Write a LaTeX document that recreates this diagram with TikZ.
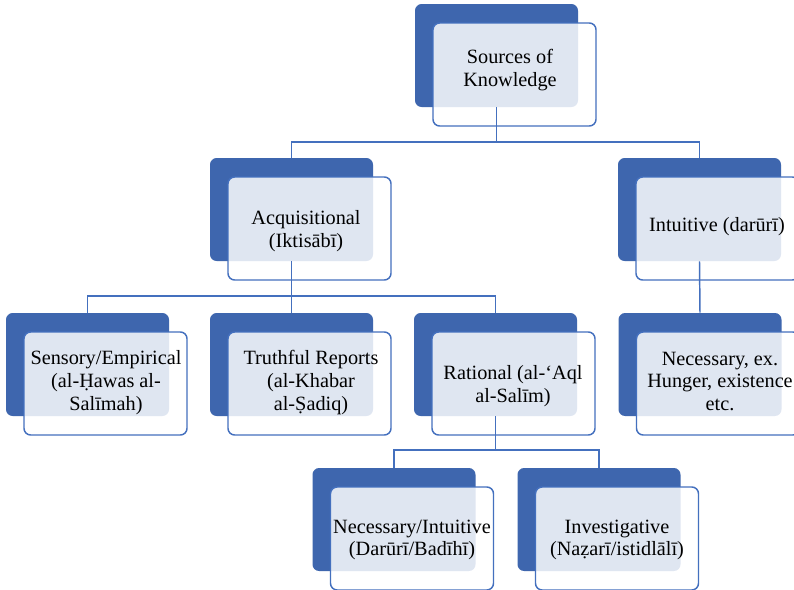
\documentclass[tikz,border=0pt]{standalone}
\usepackage{fontspec}
\setmainfont{Liberation Serif}
\definecolor{darkb}{HTML}{3E66AE}
\definecolor{lineb}{HTML}{4470BE}
\begin{document}
\begin{tikzpicture}[x=0.75pt,y=-0.75pt,
  darkbox/.style={draw=none,fill=darkb,rounded corners=5pt,minimum width=122.25pt,minimum height=77.25pt,inner sep=0pt},
  frontbox/.style={draw=lineb,line width=1.1pt,fill=white,fill opacity=0.84,rounded corners=5pt,minimum width=122.25pt,minimum height=77.25pt,inner sep=0pt},
  lbl/.style={align=center,font=\fontsize{15.2pt}{17pt}\selectfont,text=black,inner sep=0pt},
  conn/.style={draw=lineb,line width=1.1pt}]
\useasboundingbox (0,0) rectangle (794,590);
\clip (0,0) rectangle (794,590);
\fill[white] (0,0) rectangle (794,590);
% boxes
\node[darkbox] (root) at (496.5,55.5) {};
\node[frontbox] (rootf) at ([shift={(18,19)}]root.center) {};
\node[darkbox] (acq) at (291.5,209.5) {};
\node[frontbox] (acqf) at ([shift={(18,19)}]acq.center) {};
\node[darkbox] (intu) at (699.5,209.5) {};
\node[frontbox] (intuf) at ([shift={(18,19)}]intu.center) {};
\node[darkbox] (sens) at (87.5,364.5) {};
\node[frontbox] (sensf) at ([shift={(18,19)}]sens.center) {};
\node[darkbox] (truth) at (291.5,364.5) {};
\node[frontbox] (truthf) at ([shift={(18,19)}]truth.center) {};
\node[darkbox] (rat) at (495.5,364.5) {};
\node[frontbox] (ratf) at ([shift={(18,19)}]rat.center) {};
\node[darkbox] (nec) at (700,364.5) {};
\node[frontbox] (necf) at ([shift={(18,19)}]nec.center) {};
\node[darkbox] (ni) at (394,519.5) {};
\node[frontbox] (nif) at ([shift={(18,19)}]ni.center) {};
\node[darkbox] (inv) at (599,519.5) {};
\node[frontbox] (invf) at ([shift={(18,19)}]inv.center) {};
% labels
\node[lbl] (roott) at (510,70) {Sources of\\Knowledge};
\node[lbl] (acqt) at (306,231) {Acquisitional\\(Iktisābī)};
\node[lbl] (intut) at (717,226.5) {Intuitive (darūrī)};
\node[lbl] (senst) at (106,382.5) {Sensory/Empirical\\(al-Ḥawas al-\\Salīmah)};
\node[lbl] (trutht) at (311,382.5) {Truthful Reports\\(al-Khabar\\al-Ṣadiq)};
\node[lbl] (ratt) at (513,386) {Rational (al-‘Aql\\al-Salīm)};
\node[lbl] (nect) at (720,381.5) {Necessary, ex.\\Hunger, existence\\etc.};
\node[lbl] (nit) at (412,540) {Necessary/Intuitive\\(Darūrī/Badīhī)};
\node[lbl] (invt) at (617,540) {Investigative\\(Naẓarī/istidlālī)};
% connectors
\coordinate (j1) at (496.5,142);
\draw[conn] (root.south) -- (j1);
\draw[conn] (j1) -| (acq.north);
\draw[conn] (j1) -| (intu.north);
\coordinate (j2) at (291.5,296);
\draw[conn] (acq.south) -- (j2);
\draw[conn] (j2) -| (sens.north);
\draw[conn] (j2) -- (truth.north);
\draw[conn] (j2) -| (rat.north);
\draw[conn] (intu.south) -- (nec.north);
\coordinate (j3) at (495.5,450);
\draw[conn] (rat.south) -- (j3);
\draw[conn] (j3) -| (ni.north);
\draw[conn] (j3) -| (inv.north);
\end{tikzpicture}
\end{document}
